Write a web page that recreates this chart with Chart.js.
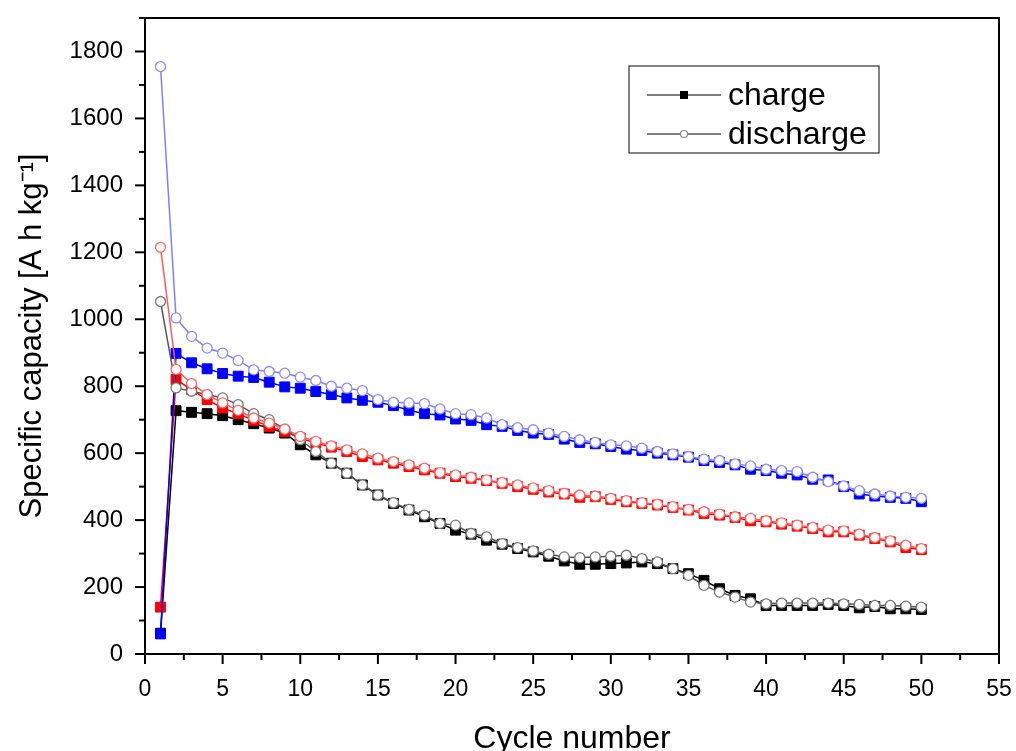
<!DOCTYPE html>
<html>
<head>
<meta charset="utf-8">
<script src="https://cdn.jsdelivr.net/npm/chart.js@4.4.1/dist/chart.umd.min.js"></script>
<style>
  html, body { margin: 0; padding: 0; background: #fff; }
  #wrap { width: 1016px; height: 751px; }
</style>
</head>
<body>
<div id="wrap"><canvas id="chart" width="1016" height="751"></canvas></div>
<script>
const cycles = Array.from({ length: 50 }, (_, i) => i + 1);

const blackCharge = [62, 727, 722, 718, 712, 700, 688, 675, 660, 625,
  595, 570, 540, 505, 475, 450, 430, 410, 390, 370,
  358, 340, 328, 315, 305, 292, 278, 268, 268, 270,
  272, 275, 270, 255, 240, 220, 195, 175, 165, 145,
  145, 145, 145, 148, 145, 138, 142, 135, 135, 133];
const blackDischarge = [1053, 795, 785, 775, 765, 745, 718, 700, 672, 640,
  605, 570, 540, 505, 475, 452, 432, 415, 390, 385,
  360, 350, 330, 318, 308, 298, 290, 288, 290, 292,
  295, 285, 275, 255, 235, 205, 185, 170, 155, 150,
  152, 152, 152, 152, 150, 148, 145, 145, 143, 140];
const redCharge = [140, 820, 790, 760, 735, 718, 698, 680, 665, 645,
  630, 618, 605, 590, 580, 570, 560, 550, 540, 530,
  525, 518, 510, 500, 492, 484, 478, 468, 470, 462,
  455, 450, 445, 438, 430, 420, 415, 408, 398, 395,
  388, 382, 375, 365, 365, 355, 345, 335, 318, 312];
const redDischarge = [1215, 850, 808, 775, 750, 728, 705, 690, 672, 650,
  635, 622, 610, 598, 585, 575, 565, 555, 542, 535,
  528, 520, 512, 505, 496, 488, 480, 475, 472, 465,
  458, 452, 447, 440, 432, 425, 418, 410, 405, 398,
  392, 385, 378, 370, 368, 358, 348, 338, 325, 315];
const blueCharge = [60, 898, 870, 852, 838, 830, 826, 812, 798, 794,
  784, 775, 765, 758, 752, 742, 728, 718, 714, 702,
  698, 685, 680, 668, 660, 656, 642, 632, 628, 620,
  612, 608, 600, 595, 588, 578, 572, 565, 552, 548,
  540, 535, 522, 520, 500, 478, 472, 468, 465, 455];
const blueDischarge = [1755, 1004, 949, 914, 899, 877, 849, 844, 839, 827,
  817, 800, 794, 787, 760, 752, 750, 748, 732, 718,
  715, 705, 685, 676, 670, 660, 650, 640, 632, 625,
  622, 615, 605, 598, 590, 582, 578, 568, 562, 552,
  548, 545, 528, 515, 502, 488, 478, 472, 468, 465];

const xTicks = [0, 5, 10, 15, 20, 25, 30, 35, 40, 45, 50, 55];
const yTicks = [0, 200, 400, 600, 800, 1000, 1200, 1400, 1600, 1800];
const legendLabels = ["charge", "discharge"];

const FONT = "'Liberation Sans', Arial, sans-serif";

function pts(values) {
  return values.map((v, i) => ({ x: cycles[i], y: v }));
}

function chargeSet(values, color, order) {
  return {
    data: pts(values),
    borderColor: color,
    backgroundColor: color,
    borderWidth: 1.5,
    pointStyle: "rect",
    pointRadius: 7,
    pointBorderWidth: 1,
    pointBorderColor: color,
    pointBackgroundColor: color,
    order: order,
  };
}

function dischargeSet(values, line, edge, order) {
  return {
    data: pts(values),
    borderColor: line,
    backgroundColor: "#ffffff",
    borderWidth: 1.5,
    pointStyle: "circle",
    pointRadius: 5,
    pointBorderWidth: 1.3,
    pointBorderColor: edge,
    pointBackgroundColor: "#ffffff",
    order: order,
  };
}

// frame, outward ticks (major + minor) and the legend box
const framePlugin = {
  id: "frame",
  afterDraw(chart) {
    const { ctx, chartArea: a, scales } = chart;
    ctx.save();
    ctx.strokeStyle = "#000";
    ctx.lineWidth = 2;
    ctx.strokeRect(a.left, a.top, a.right - a.left, a.bottom - a.top);

    // x ticks
    for (let v = 0; v <= 55; v += 2.5) {
      const px = scales.x.getPixelForValue(v);
      const len = v % 5 === 0 ? 10 : 6;
      ctx.beginPath();
      ctx.moveTo(px, a.bottom);
      ctx.lineTo(px, a.bottom + len);
      ctx.stroke();
    }
    // y ticks
    for (let v = 0; v <= 1900; v += 100) {
      const py = scales.y.getPixelForValue(v);
      const len = v % 200 === 0 ? 10 : 6;
      ctx.beginPath();
      ctx.moveTo(a.left, py);
      ctx.lineTo(a.left - len, py);
      ctx.stroke();
    }

    // legend
    const lx = 629, ly = 66, lw = 250, lh = 87;
    ctx.lineWidth = 1.2;
    ctx.strokeStyle = "#333";
    ctx.strokeRect(lx, ly, lw, lh);
    ctx.strokeStyle = "#000";
    const rows = [ly + 29, ly + 68];
    rows.forEach((ry, i) => {
      ctx.beginPath();
      ctx.moveTo(lx + 18, ry);
      ctx.lineTo(lx + 92, ry);
      ctx.stroke();
      const mx = lx + 55;
      if (i === 0) {
        ctx.fillStyle = "#000";
        ctx.fillRect(mx - 4, ry - 4, 8, 8);
      } else {
        ctx.fillStyle = "#fff";
        ctx.beginPath();
        ctx.arc(mx, ry, 3.5, 0, Math.PI * 2);
        ctx.fill();
        ctx.strokeStyle = "#888";
        ctx.stroke();
        ctx.strokeStyle = "#000";
      }
      ctx.fillStyle = "#000";
      ctx.font = "32px " + FONT;
      ctx.textBaseline = "middle";
      ctx.textAlign = "left";
      ctx.fillText(legendLabels[i], lx + 99, ry + 1);
    });
    ctx.restore();
  },
};

new Chart(document.getElementById("chart"), {
  type: "line",
  data: {
    datasets: [
      dischargeSet(blueDischarge, "#7f7fff", "#8c8cff", 0),
      dischargeSet(redDischarge, "#ff5a5a", "#ff6666", 1),
      dischargeSet(blackDischarge, "#555555", "#777777", 2),
      chargeSet(blueCharge, "#0000ff", 3),
      chargeSet(redCharge, "#ff0000", 4),
      chargeSet(blackCharge, "#000000", 5),
    ],
  },
  options: {
    responsive: false,
    animation: false,
    layout: { padding: { top: 18, right: 17, left: 0, bottom: 0 } },
    plugins: { legend: { display: false }, tooltip: { enabled: false } },
    scales: {
      x: {
        type: "linear",
        min: 0,
        max: 55,
        grid: { display: false },
        border: { display: false },
        afterBuildTicks: (s) => { s.ticks = xTicks.map((v) => ({ value: v })); },
        afterFit: (s) => {
          s.height = 97;
          s.paddingLeft = 0;
          s.paddingRight = 0;
        },
        ticks: {
          padding: 14,
          color: "#000",
          font: { family: FONT, size: 23 },
          maxRotation: 0,
          autoSkip: false,
          callback: (v) => String(v),
        },
        title: {
          display: true,
          text: "Cycle number",
          color: "#000",
          font: { family: FONT, size: 32 },
          padding: { top: 20, bottom: -7 },
        },
      },
      y: {
        type: "linear",
        min: 0,
        max: 1900,
        grid: { display: false },
        border: { display: false },
        afterBuildTicks: (s) => { s.ticks = yTicks.map((v) => ({ value: v })); },
        afterFit: (s) => {
          s.width = 145;
          s.paddingTop = 0;
          s.paddingBottom = 0;
        },
        ticks: {
          padding: 14,
          color: "#000",
          font: { family: FONT, size: 24 },
          autoSkip: false,
          callback: (v) => String(v),
        },
        title: {
          display: true,
          text: "Specific capacity [A h kg⁻¹]",
          color: "#000",
          font: { family: FONT, size: 31 },
          padding: { top: 14, bottom: 0 },
        },
      },
    },
  },
  plugins: [framePlugin],
});
</script>
</body>
</html>
